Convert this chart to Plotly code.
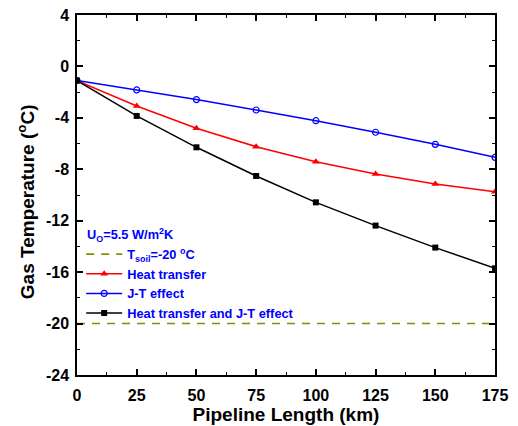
import plotly.graph_objects as go

length_km = [0, 25, 50, 75, 100, 125, 150, 175]
heat_transfer = [-1.1, -3.08, -4.81, -6.24, -7.41, -8.36, -9.14, -9.74]
jt_effect = [-1.1, -1.83, -2.58, -3.39, -4.22, -5.12, -6.06, -7.07]
heat_and_jt = [-1.1, -3.85, -6.29, -8.52, -10.57, -12.38, -14.09, -15.70]
t_soil = -20

x_ticks = [0, 25, 50, 75, 100, 125, 150, 175]
y_ticks = [4, 0, -4, -8, -12, -16, -20, -24]
y_tick_text = ["4", "0", "-4", "-8", "-12", "-16", "-20", "-24"]

FONT = "Liberation Sans, Arial, sans-serif"

fig = go.Figure()
fig.add_trace(go.Scatter(
    x=[length_km[0], length_km[-1]], y=[t_soil, t_soil], mode="lines",
    line=dict(color="#8c8c00", width=1.6, dash="8px,7px"),
    name="T<sub>soil</sub>=-20 <sup>o</sup>C"))
fig.add_trace(go.Scatter(
    x=length_km, y=heat_transfer, mode="lines+markers",
    line=dict(color="#ff0000", width=1.5),
    marker=dict(symbol="triangle-up", size=7, color="#ff0000"),
    name="Heat transfer"))
fig.add_trace(go.Scatter(
    x=length_km, y=jt_effect, mode="lines+markers",
    line=dict(color="#0000ff", width=1.5),
    marker=dict(symbol="circle-open", size=6, color="#0000ff", line=dict(width=1.2)),
    name="J-T effect"))
fig.add_trace(go.Scatter(
    x=length_km, y=heat_and_jt, mode="lines+markers",
    line=dict(color="#000000", width=1.5),
    marker=dict(symbol="square", size=6, color="#000000"),
    name="Heat transfer and J-T effect"))

axis_common = dict(
    showline=True, linecolor="black", linewidth=1.5, mirror="allticks",
    ticks="inside", ticklen=6, tickwidth=1.5, tickcolor="black",
    showgrid=False, zeroline=False, automargin=False,
    tickfont=dict(family=FONT, size=16, color="black", weight="bold"),
)

fig.update_xaxes(
    range=[0, 175], tickvals=x_ticks, ticklabelstandoff=5,
    minor=dict(ticks="inside", ticklen=3, tickwidth=1, tickcolor="black", dtick=12.5, showgrid=False),
    title=dict(text="<b>Pipeline Length (km)</b>", font=dict(family=FONT, size=19, color="black"), standoff=3),
    **axis_common)
fig.update_yaxes(
    range=[-24, 4], tickvals=y_ticks, ticktext=y_tick_text, ticklabelstandoff=3,
    minor=dict(ticks="inside", ticklen=3, tickwidth=1, tickcolor="black", dtick=2, showgrid=False),
    **axis_common)

# y-axis title as a rotated annotation for exact placement
fig.add_annotation(
    xref="paper", yref="paper", x=-0.122, y=0.48, xanchor="center", yanchor="middle",
    text="<b>Gas Temperature (<sup>o</sup>C)</b>", textangle=-90, showarrow=False,
    font=dict(family=FONT, size=19, color="black"))

fig.add_annotation(
    xref="paper", yref="paper", x=0.02, y=0.388, xanchor="left", yanchor="middle",
    text="<b>U<sub>O</sub>=5.5 W/m<sup>2</sup>K</b>", showarrow=False,
    font=dict(family=FONT, size=12.8, color="#0000ff"))

fig.update_layout(
    width=518, height=426,
    margin=dict(l=77, r=23, t=15, b=51),
    paper_bgcolor="white", plot_bgcolor="white",
    showlegend=True,
    legend=dict(
        x=0.01, y=0.377, xanchor="left", yanchor="top",
        bgcolor="rgba(0,0,0,0)", borderwidth=0,
        font=dict(family=FONT, size=12.8, color="#0000ff", weight="bold"),
        tracegroupgap=0, itemwidth=36,
    ),
)

fig.write_html("out.html")
